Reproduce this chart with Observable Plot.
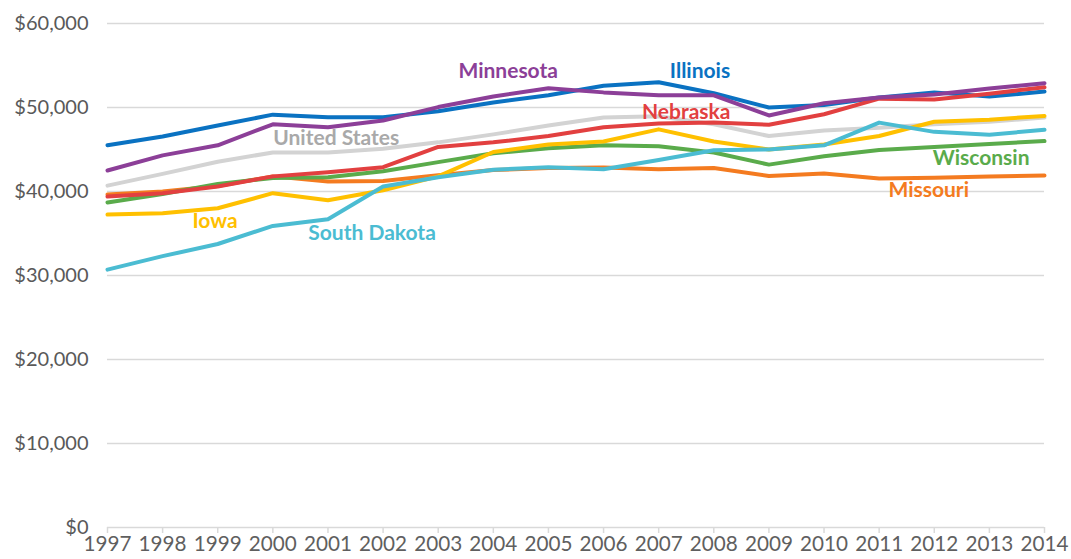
<!DOCTYPE html>
<html>
<head>
<meta charset="utf-8">
<script src="https://cdn.jsdelivr.net/npm/d3@7"></script>
<script src="https://cdn.jsdelivr.net/npm/@observablehq/plot@0.6"></script>
<style>
  html, body { margin: 0; padding: 0; background: #fff; }
  #chart svg { display: block; }
</style>
</head>
<body>
<div id="chart"></div>
<script>
const years = [1997,1998,1999,2000,2001,2002,2003,2004,2005,2006,2007,2008,2009,2010,2011,2012,2013,2014];

const unitedStates = [40700,42100,43550,44650,44650,45100,45850,46800,47850,48800,48950,48000,46600,47250,47600,48000,48300,48800];
const illinois     = [45500,46550,47850,49150,48850,48850,49550,50600,51450,52600,53000,51700,50000,50300,51200,51800,51300,51900];
const minnesota    = [42500,44300,45500,48000,47650,48450,50050,51300,52300,51800,51450,51450,49050,50500,51200,51550,52250,52900];
const nebraska     = [39400,39800,40600,41800,42300,42900,45300,45850,46600,47650,48100,48200,47950,49200,51050,50950,51650,52400];
const iowa         = [37250,37400,38000,39800,38950,40150,41800,44700,45600,45950,47400,45950,45000,45600,46600,48300,48550,49000];
const wisconsin    = [38700,39700,40900,41600,41700,42400,43500,44550,45150,45500,45400,44650,43200,44200,44950,45300,45650,46000];
const missouri     = [39650,40000,40650,41800,41200,41250,41950,42550,42800,42850,42650,42800,41850,42150,41550,41650,41800,41900];
const southDakota  = [30700,32300,33750,35900,36700,40600,41700,42600,42900,42650,43750,44900,45000,45500,48200,47100,46750,47350];

const seriesNames  = ["United States","Missouri","Wisconsin","Iowa","South Dakota","Illinois","Nebraska","Minnesota"];
const seriesValues = [unitedStates, missouri, wisconsin, iowa, southDakota, illinois, nebraska, minnesota];
const seriesColors = ["#d3d3d3","#f47b20","#5aab4b","#ffc000","#4bbcd2","#0a72c2","#e24040","#8c3f98"];
const labelColors  = ["#a9a9a9","#f47b20","#5aab4b","#ffc000","#4bbcd2","#0a72c2","#e24040","#8c3f98"];

// label anchors (in data units: year, dollars)
const labelYears  = [2001.15, 2011.9, 2012.85, 1998.95, 2001.8, 2007.75, 2007.5, 2004.27];
const labelValues = [46300, 40100, 43900, 36400, 35000, 54300, 49400, 54300];

const yTicks = [0,10000,20000,30000,40000,50000,60000];

const rows = [];
seriesNames.forEach((name, i) => {
  years.forEach((yr, j) => rows.push({series: name, year: yr, value: seriesValues[i][j]}));
});
const labels = seriesNames.map((name, i) => ({series: name, year: labelYears[i], value: labelValues[i], color: labelColors[i]}));

const fmt = d => "$" + d3.format(",")(d);

const chart = Plot.plot({
  width: 1071,
  height: 559,
  marginLeft: 107,
  marginRight: 27,
  marginTop: 23,
  marginBottom: 32,
  style: {fontFamily: "Lato, sans-serif", background: "#fff"},
  x: {domain: [1997, 2014], ticks: years, tickFormat: d => String(d)},
  y: {domain: [0, 60000], ticks: yTicks},
  color: {domain: seriesNames, range: seriesColors},
  marks: [
    Plot.ruleY(yTicks, {stroke: "#d9d9d9", strokeWidth: 1.5}),
    Plot.axisY({ticks: yTicks, tickFormat: fmt, tickSize: 0, tickPadding: 19, fontSize: 20, fill: "#595959", label: null}),
    Plot.axisX({ticks: years, tickFormat: d => String(d), tickSize: 6, stroke: "#d9d9d9", strokeWidth: 1.5, tickPadding: 3, fontSize: 21, fill: "#5f5f5f", label: null}),
    Plot.line(rows, {x: "year", y: "value", z: "series", stroke: "series", strokeWidth: 4, strokeLinejoin: "round"}),
    Plot.text(labels, {x: "year", y: "value", text: "series", fill: "color", fontSize: 21, fontWeight: "bold"})
  ]
});

document.getElementById("chart").appendChild(chart);

// condense the year labels to match the narrow style of the reference
d3.select(chart).selectAll("g[aria-label='x-axis tick label'] text")
  .attr("textLength", 48)
  .attr("lengthAdjust", "spacingAndGlyphs");
</script>
</body>
</html>
